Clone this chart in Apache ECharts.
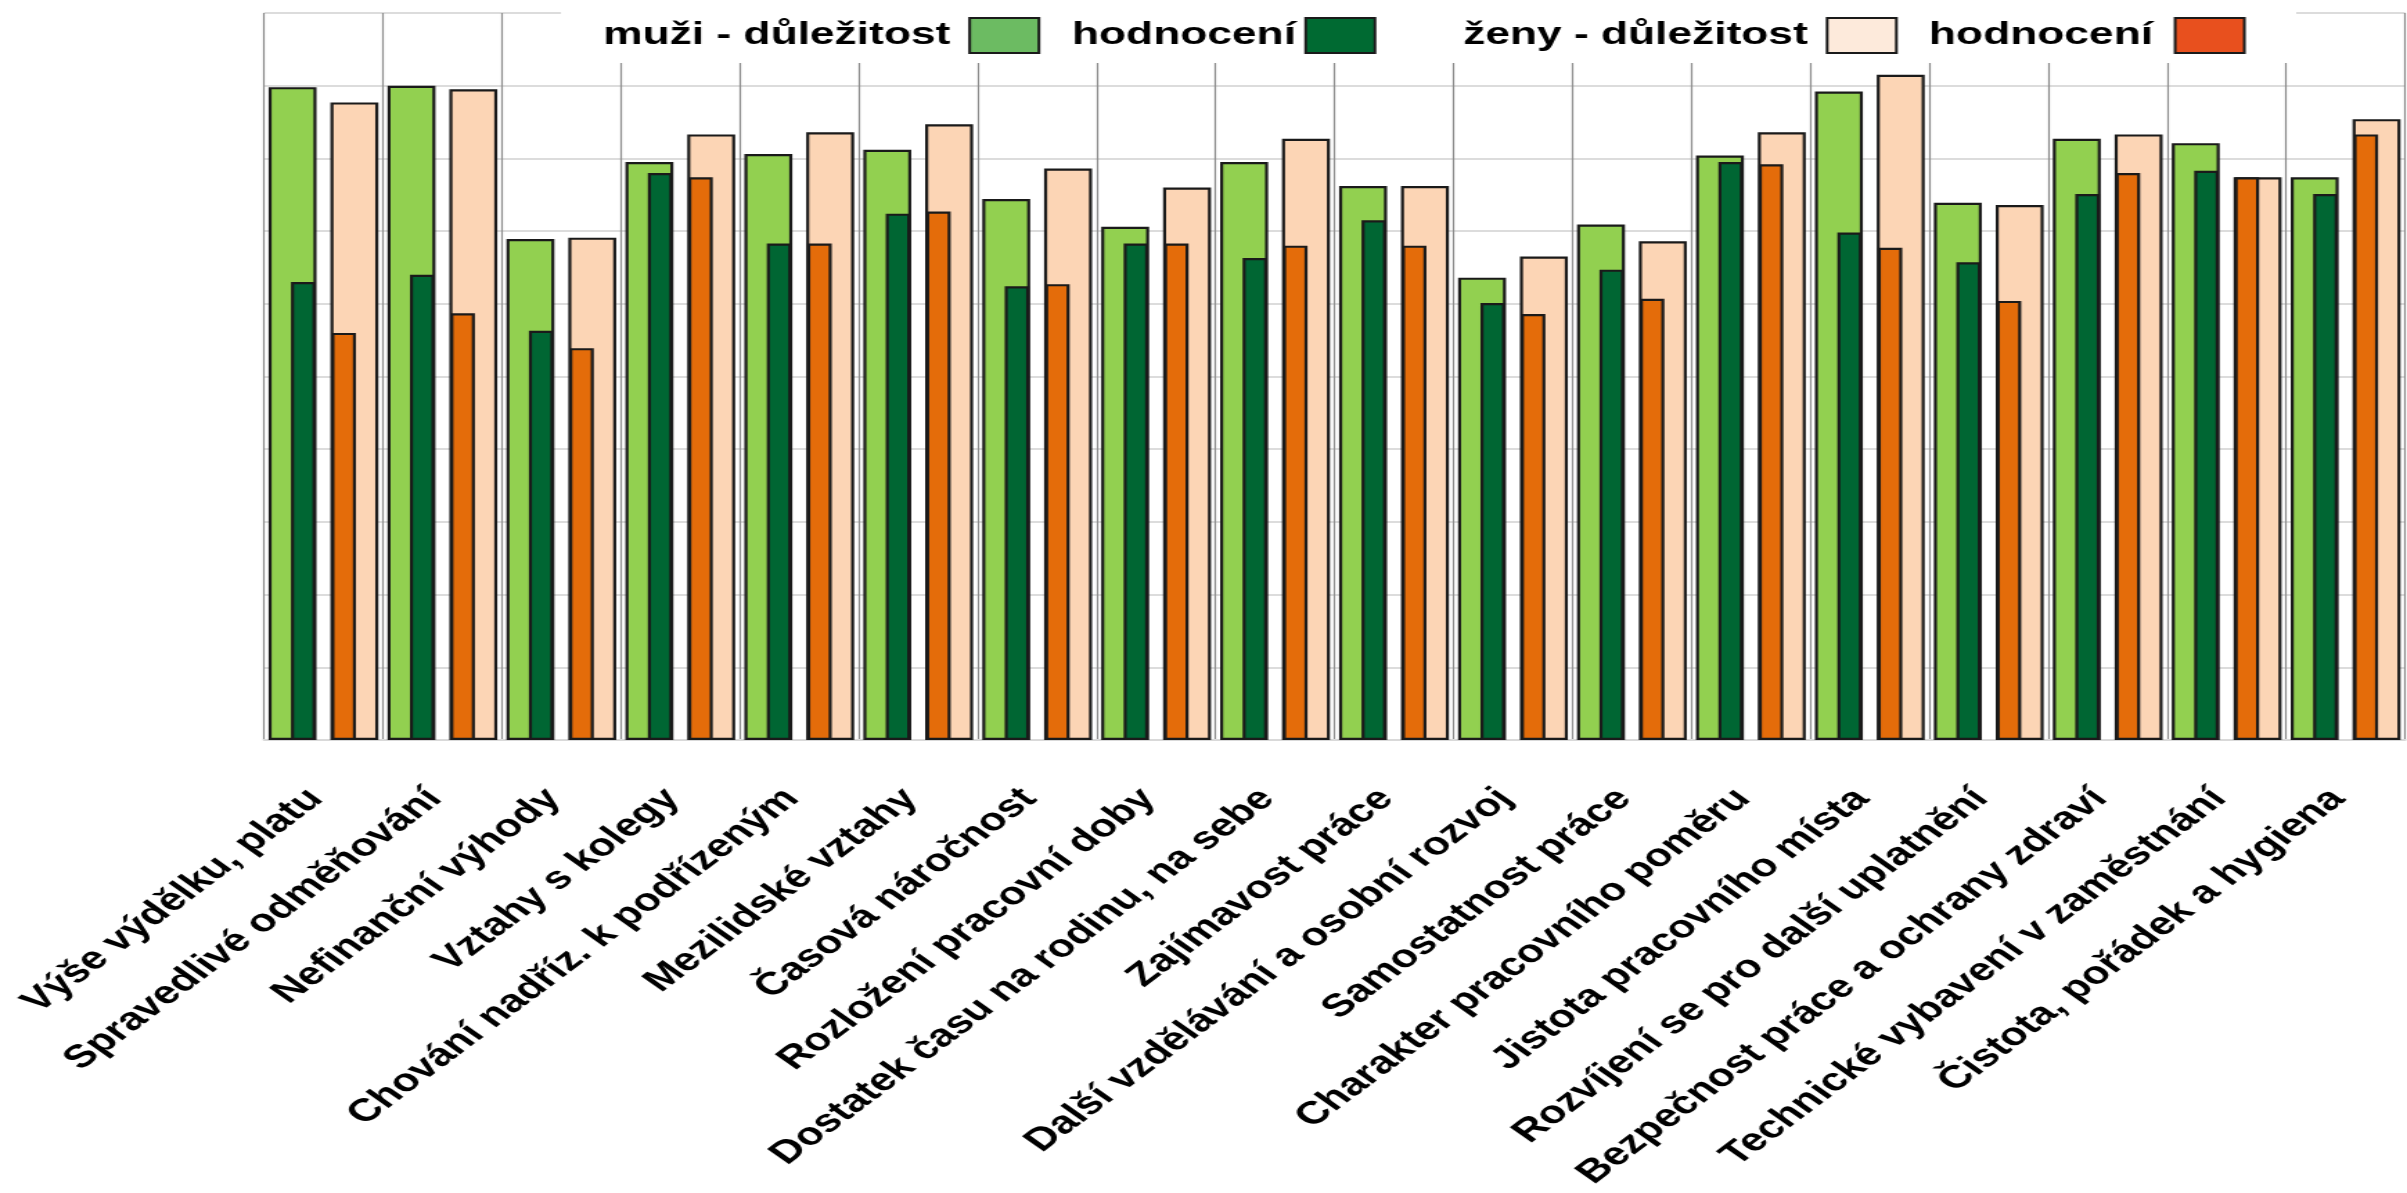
<!DOCTYPE html>
<html>
<head>
<meta charset="utf-8">
<script src="https://cdn.jsdelivr.net/npm/echarts@6/dist/echarts.min.js"></script>
<style>
html,body{margin:0;padding:0;background:#fff;overflow:hidden;width:2407px;height:1193px;}
#chart{width:1738px;height:1193px;transform:scaleX(1.38493);transform-origin:0 0;}
</style>
</head>
<body>
<div id="chart"></div>
<script>
const categories = [
  'Výše výdělku, platu',
  'Spravedlivé odměňování',
  'Nefinanční výhody',
  'Vztahy s kolegy',
  'Chování nadříz. k podřízeným',
  'Mezilidské vztahy',
  'Časová náročnost',
  'Rozložení pracovní doby',
  'Dostatek času na rodinu, na sebe',
  'Zajímavost práce',
  'Další vzdělávání a osobní rozvoj',
  'Samostatnost práce',
  'Charakter pracovního poměru',
  'Jistota pracovního místa',
  'Rozvíjení se pro další uplatnění',
  'Bezpečnost práce a ochrany zdraví',
  'Technické vybavení v zaměstnání',
  'Čistota, pořádek a hygiena'
];
const menImportance   = [89.8, 90.0, 68.9, 79.5, 80.6, 81.2, 74.4, 70.6, 79.5, 76.2, 63.6, 70.9, 80.4, 89.2, 73.9, 82.7, 82.1, 77.4];
const menRating       = [63.0, 64.0, 56.3, 78.0, 68.3, 72.4, 62.4, 68.3, 66.3, 71.5, 60.1, 64.7, 79.5, 69.8, 65.7, 75.1, 78.3, 75.1];
const womenImportance = [87.7, 89.5, 69.1, 83.3, 83.6, 84.7, 78.6, 76.0, 82.7, 76.2, 66.5, 68.6, 83.6, 91.5, 73.6, 83.3, 77.4, 85.4];
const womenRating     = [56.0, 58.7, 53.9, 77.4, 68.3, 72.7, 62.7, 68.3, 68.0, 68.0, 58.6, 60.7, 79.2, 67.7, 60.4, 78.0, 77.4, 83.3];
const seriesNames = ['muži - důležitost', 'muži - hodnocení', 'ženy - důležitost', 'ženy - hodnocení'];
const legendColors = ['#6cbb62', '#006a32', '#fdeadb', '#e8501e'];

const chart = echarts.init(document.getElementById('chart'), null, {renderer: 'canvas'});
const FONT = 'Liberation Sans, Arial, sans-serif';
const border = {borderColor: '#1a1a1a', borderWidth: 2.2};
const legendFmt = function (n) { return n.replace(/^(muži|ženy) - hodnocení$/, 'hodnocení'); };
const legendLeft = [435.5, 774, 1056.4, 1392.8];
const legendPad = [9, 2, 9, 11];

const legends = seriesNames.map(function (name, i) {
  return {
    left: legendLeft[i], top: 17, padding: 0, itemWidth: 50, itemHeight: 35, align: 'right', z: 10,
    icon: 'rect', formatter: legendFmt,
    textStyle: {fontSize: 32, fontWeight: 'bold', color: '#000', fontFamily: FONT, padding: [0, legendPad[i], 0, 0]},
    data: [{name: name, itemStyle: {color: legendColors[i], borderColor: '#1a1a1a', borderWidth: 2}}]
  };
});

chart.setOption({
  animation: false,
  backgroundColor: '#fff',
  grid: {left: 190.6, right: 1.4, top: 13, bottom: 453, containLabel: false, outerBoundsMode: 'none'},
  legend: legends,
  graphic: [{
    type: 'rect', z: 5, silent: true,
    shape: {x: 405, y: 0, width: 1253, height: 63},
    style: {fill: '#ffffff'}
  }],
  xAxis: [
    {
      type: 'category', data: categories,
      axisLine: {show: true, lineStyle: {color: '#d9d9d9', width: 2}},
      axisTick: {show: false},
      splitLine: {show: true, lineStyle: {color: '#8c8c8c', width: 1.2}},
      axisLabel: {interval: 0, rotate: 46, margin: 48, fontSize: 32, fontWeight: 'bold', color: '#000',
                  fontFamily: FONT, padding: [0, 8, 0, 0]}
    },
    {type: 'category', data: categories, show: false}
  ],
  yAxis: {
    type: 'value', min: 0, max: 100, interval: 10,
    axisLabel: {show: false}, axisLine: {show: false}, axisTick: {show: false},
    splitLine: {show: true, lineStyle: {color: '#dcdcdc', width: 2}}
  },
  series: [
    {name: seriesNames[0], type: 'bar', xAxisIndex: 0, data: menImportance, barWidth: '40.3%', barGap: '29%',
     itemStyle: Object.assign({color: '#92d050'}, border)},
    {name: seriesNames[2], type: 'bar', xAxisIndex: 0, data: womenImportance, barWidth: '40.3%', barGap: '29%',
     itemStyle: Object.assign({color: '#fcd5b5'}, border)},
    {name: seriesNames[1], type: 'bar', xAxisIndex: 1, data: menRating, barWidth: '20.6%', barGap: '65%',
     itemStyle: Object.assign({color: '#006633'}, border)},
    {name: seriesNames[3], type: 'bar', xAxisIndex: 1, data: womenRating, barWidth: '20.6%', barGap: '65%',
     itemStyle: Object.assign({color: '#e46c0a'}, border)}
  ]
});
</script>
</body>
</html>
